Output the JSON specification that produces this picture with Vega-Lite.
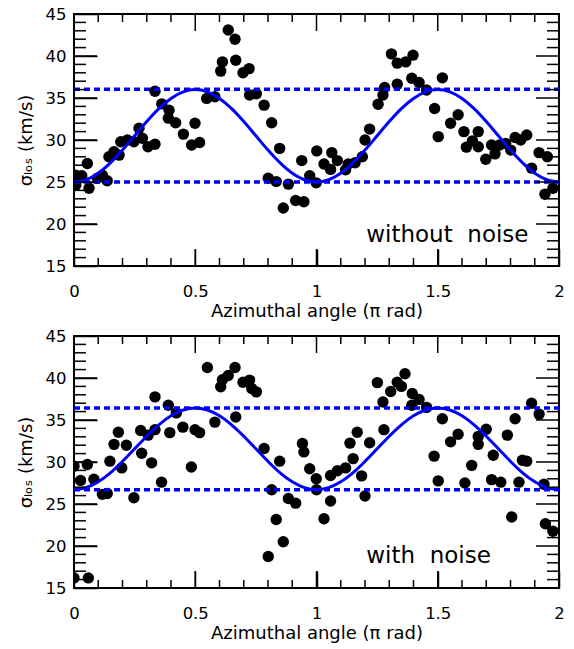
{
  "$schema": "https://vega.github.io/schema/vega-lite/v6.json",
  "background": "white",
  "padding": {"left": 16, "top": 5, "right": 0, "bottom": 0},
  "spacing": 70,
  "bounds": "flush",
  "config": {
    "view": {"stroke": "black", "strokeWidth": 2, "fill": "transparent"},
    "axis": {"zindex": 1, "domain": false, "grid": false, "tickColor": "#000000", "tickWidth": 1.5, "labelFont": "DejaVu Sans", "labelFontSize": 16.5, "labelColor": "black", "titleFont": "DejaVu Sans", "titleFontSize": 18, "titleFontWeight": "normal", "titleColor": "black", "labelFlush": false, "labelOverlap": false}
  },
  "datasets": {
    "ymaj": [{"v":15},{"v":20},{"v":25},{"v":30},{"v":35},{"v":40},{"v":45}],
    "ymin": [{"v":16},{"v":17},{"v":18},{"v":19},{"v":21},{"v":22},{"v":23},{"v":24},{"v":26},{"v":27},{"v":28},{"v":29},{"v":31},{"v":32},{"v":33},{"v":34},{"v":36},{"v":37},{"v":38},{"v":39},{"v":41},{"v":42},{"v":43},{"v":44}],
    "xmaj": [{"v":0},{"v":0.5},{"v":1},{"v":1.5},{"v":2}],
    "xmin": [{"v":0.1},{"v":0.2},{"v":0.3},{"v":0.4},{"v":0.6},{"v":0.7},{"v":0.8},{"v":0.9},{"v":1.1},{"v":1.2},{"v":1.3},{"v":1.4},{"v":1.6},{"v":1.7},{"v":1.8},{"v":1.9}],
    "top_pts": [
      {"x":0.007,"y":25.8},{"x":0.032,"y":25.75},{"x":0.007,"y":24.6},{"x":0.055,"y":27.2},{"x":0.062,"y":24.25},{"x":0.096,"y":25.45},{"x":0.117,"y":25.8},{"x":0.137,"y":25.15},{"x":0.144,"y":28.0},{"x":0.165,"y":28.6},{"x":0.186,"y":28.2},{"x":0.193,"y":29.8},{"x":0.22,"y":30.0},{"x":0.247,"y":29.8},{"x":0.268,"y":31.4},{"x":0.282,"y":30.2},{"x":0.305,"y":29.2},{"x":0.334,"y":29.5},{"x":0.334,"y":35.8},{"x":0.362,"y":34.3},{"x":0.392,"y":33.55},{"x":0.389,"y":32.6},{"x":0.419,"y":32.05},{"x":0.451,"y":30.7},{"x":0.499,"y":32.0},{"x":0.485,"y":29.4},{"x":0.518,"y":29.7},{"x":0.547,"y":34.95},{"x":0.581,"y":35.15},{"x":0.605,"y":38.2},{"x":0.612,"y":39.3},{"x":0.636,"y":43.1},{"x":0.664,"y":42.0},{"x":0.667,"y":39.5},{"x":0.697,"y":38.0},{"x":0.722,"y":38.5},{"x":0.724,"y":35.35},{"x":0.752,"y":35.5},{"x":0.784,"y":34.15},{"x":0.815,"y":32.05},{"x":0.848,"y":29.0},{"x":0.801,"y":25.45},{"x":0.834,"y":25.05},{"x":0.884,"y":24.75},{"x":0.863,"y":21.9},{"x":0.914,"y":22.8},{"x":0.948,"y":22.65},{"x":0.939,"y":27.55},{"x":0.972,"y":25.75},{"x":0.999,"y":24.9},{"x":1.001,"y":28.7},{"x":1.031,"y":27.15},{"x":1.058,"y":26.5},{"x":1.063,"y":28.5},{"x":1.086,"y":27.55},{"x":1.12,"y":26.45},{"x":1.131,"y":27.15},{"x":1.159,"y":27.3},{"x":1.189,"y":28.0},{"x":1.2,"y":30.0},{"x":1.219,"y":31.3},{"x":1.254,"y":34.25},{"x":1.274,"y":35.35},{"x":1.281,"y":36.25},{"x":1.309,"y":40.25},{"x":1.333,"y":39.15},{"x":1.333,"y":36.65},{"x":1.368,"y":39.3},{"x":1.398,"y":40.1},{"x":1.393,"y":37.35},{"x":1.423,"y":36.85},{"x":1.454,"y":35.95},{"x":1.519,"y":37.4},{"x":1.487,"y":33.75},{"x":1.502,"y":30.4},{"x":1.553,"y":32.0},{"x":1.584,"y":33.0},{"x":1.608,"y":31.0},{"x":1.618,"y":29.15},{"x":1.643,"y":29.9},{"x":1.667,"y":31.0},{"x":1.667,"y":29.2},{"x":1.698,"y":27.7},{"x":1.722,"y":29.4},{"x":1.736,"y":28.35},{"x":1.755,"y":29.4},{"x":1.78,"y":29.6},{"x":1.801,"y":28.8},{"x":1.819,"y":30.3},{"x":1.842,"y":30.0},{"x":1.867,"y":30.6},{"x":1.887,"y":26.65},{"x":1.918,"y":28.5},{"x":1.952,"y":28.0},{"x":1.942,"y":23.55},{"x":1.975,"y":24.25}
    ],
    "top_curve": [
      {"x":0,"y":25.0},{"x":0.05,"y":25.27},{"x":0.1,"y":26.05},{"x":0.15,"y":27.27},{"x":0.2,"y":28.8},{"x":0.25,"y":30.5},{"x":0.3,"y":32.2},{"x":0.35,"y":33.73},{"x":0.4,"y":34.95},{"x":0.45,"y":35.73},{"x":0.5,"y":36.0},{"x":0.55,"y":35.73},{"x":0.6,"y":34.95},{"x":0.65,"y":33.73},{"x":0.7,"y":32.2},{"x":0.75,"y":30.5},{"x":0.8,"y":28.8},{"x":0.85,"y":27.27},{"x":0.9,"y":26.05},{"x":0.95,"y":25.27},
      {"x":1.0,"y":25.0},{"x":1.05,"y":25.27},{"x":1.1,"y":26.05},{"x":1.15,"y":27.27},{"x":1.2,"y":28.8},{"x":1.25,"y":30.5},{"x":1.3,"y":32.2},{"x":1.35,"y":33.73},{"x":1.4,"y":34.95},{"x":1.45,"y":35.73},{"x":1.5,"y":36.0},{"x":1.55,"y":35.73},{"x":1.6,"y":34.95},{"x":1.65,"y":33.73},{"x":1.7,"y":32.2},{"x":1.75,"y":30.5},{"x":1.8,"y":28.8},{"x":1.85,"y":27.27},{"x":1.9,"y":26.05},{"x":1.95,"y":25.27},{"x":2.0,"y":25.0}
    ],
    "top_hi": [{"x":0,"y":36.05},{"x":2,"y":36.05}],
    "top_lo": [{"x":0,"y":25.0},{"x":2,"y":25.0}],
    "top_lbl": [{"x":1.205,"y":17.9,"label":"without\u00a0 noise"}],
    "bot_pts": [
      {"x":0.0,"y":29.5},{"x":0.055,"y":29.7},{"x":0.027,"y":27.8},{"x":0.082,"y":27.95},{"x":0.117,"y":26.15},{"x":0.137,"y":26.25},{"x":0.148,"y":30.1},{"x":0.165,"y":32.1},{"x":0.183,"y":33.55},{"x":0.197,"y":29.3},{"x":0.216,"y":32.0},{"x":0.247,"y":25.75},{"x":0.275,"y":33.75},{"x":0.279,"y":31.05},{"x":0.306,"y":33.2},{"x":0.32,"y":29.9},{"x":0.334,"y":33.85},{"x":0.334,"y":37.75},{"x":0.361,"y":27.6},{"x":0.389,"y":36.75},{"x":0.395,"y":33.5},{"x":0.422,"y":35.85},{"x":0.449,"y":34.15},{"x":0.484,"y":29.4},{"x":0.499,"y":33.85},{"x":0.518,"y":33.5},{"x":0.55,"y":41.25},{"x":0.581,"y":34.75},{"x":0.605,"y":38.95},{"x":0.612,"y":39.8},{"x":0.636,"y":40.3},{"x":0.664,"y":41.25},{"x":0.667,"y":35.35},{"x":0.697,"y":39.5},{"x":0.724,"y":39.75},{"x":0.733,"y":38.75},{"x":0.752,"y":38.35},{"x":0.784,"y":31.6},{"x":0.848,"y":30.1},{"x":0.815,"y":26.7},{"x":0.834,"y":23.15},{"x":0.801,"y":18.75},{"x":0.863,"y":20.5},{"x":0.884,"y":25.65},{"x":0.914,"y":25.1},{"x":0.942,"y":32.2},{"x":0.948,"y":31.2},{"x":0.972,"y":29.2},{"x":0.999,"y":28.0},{"x":1.0,"y":26.7},{"x":1.031,"y":23.25},{"x":1.058,"y":25.35},{"x":1.058,"y":28.4},{"x":1.086,"y":28.95},{"x":1.12,"y":29.3},{"x":1.138,"y":32.25},{"x":1.151,"y":30.4},{"x":1.168,"y":33.55},{"x":1.186,"y":28.35},{"x":1.2,"y":25.95},{"x":1.219,"y":32.3},{"x":1.251,"y":39.45},{"x":1.278,"y":33.85},{"x":1.274,"y":37.15},{"x":1.306,"y":38.4},{"x":1.333,"y":39.5},{"x":1.35,"y":39.0},{"x":1.365,"y":40.5},{"x":1.395,"y":38.15},{"x":1.393,"y":36.75},{"x":1.423,"y":37.45},{"x":1.454,"y":36.5},{"x":1.519,"y":35.15},{"x":1.485,"y":30.7},{"x":1.502,"y":27.75},{"x":1.553,"y":32.4},{"x":1.584,"y":33.3},{"x":1.612,"y":27.5},{"x":1.64,"y":29.6},{"x":1.667,"y":33.05},{"x":1.667,"y":32.1},{"x":1.7,"y":33.9},{"x":1.722,"y":27.9},{"x":1.729,"y":30.8},{"x":1.76,"y":27.6},{"x":1.787,"y":33.2},{"x":1.805,"y":23.45},{"x":1.819,"y":35.15},{"x":1.835,"y":27.6},{"x":1.849,"y":30.2},{"x":1.867,"y":30.1},{"x":1.887,"y":37.0},{"x":1.918,"y":35.7},{"x":1.938,"y":27.35},{"x":1.944,"y":22.65},{"x":1.975,"y":21.75},{"x":0.0,"y":16.2},{"x":0.059,"y":16.2}
    ],
    "bot_curve": [
      {"x":0,"y":26.71},{"x":0.05,"y":26.95},{"x":0.1,"y":27.64},{"x":0.15,"y":28.71},{"x":0.2,"y":30.07},{"x":0.25,"y":31.57},{"x":0.3,"y":33.07},{"x":0.35,"y":34.43},{"x":0.4,"y":35.5},{"x":0.45,"y":36.19},{"x":0.5,"y":36.43},{"x":0.55,"y":36.19},{"x":0.6,"y":35.5},{"x":0.65,"y":34.43},{"x":0.7,"y":33.07},{"x":0.75,"y":31.57},{"x":0.8,"y":30.07},{"x":0.85,"y":28.71},{"x":0.9,"y":27.64},{"x":0.95,"y":26.95},
      {"x":1.0,"y":26.71},{"x":1.05,"y":26.95},{"x":1.1,"y":27.64},{"x":1.15,"y":28.71},{"x":1.2,"y":30.07},{"x":1.25,"y":31.57},{"x":1.3,"y":33.07},{"x":1.35,"y":34.43},{"x":1.4,"y":35.5},{"x":1.45,"y":36.19},{"x":1.5,"y":36.43},{"x":1.55,"y":36.19},{"x":1.6,"y":35.5},{"x":1.65,"y":34.43},{"x":1.7,"y":33.07},{"x":1.75,"y":31.57},{"x":1.8,"y":30.07},{"x":1.85,"y":28.71},{"x":1.9,"y":27.64},{"x":1.95,"y":26.95},{"x":2.0,"y":26.71}
    ],
    "bot_hi": [{"x":0,"y":36.43},{"x":2,"y":36.43}],
    "bot_lo": [{"x":0,"y":26.71},{"x":2,"y":26.71}],
    "bot_lbl": [{"x":1.205,"y":17.95,"label":"with\u00a0 noise"}]
  },
  "vconcat": [
    {
      "width": 485, "height": 252,
      "resolve": {"scale": {"x": "independent", "y": "independent"}},
      "layer": [
        {"data": {"name": "top_pts"}, "mark": {"type": "circle", "size": 130, "color": "black", "opacity": 1, "clip": true},
         "encoding": {
           "x": {"field": "x", "type": "quantitative", "scale": {"domain": [0, 2], "nice": false, "zero": false}, "axis": {"orient": "bottom", "values": [0, 0.5, 1, 1.5, 2], "format": "~g", "tickSize": 17, "offset": -17, "labelPadding": 17, "title": "Azimuthal angle (π rad)", "titlePadding": 3}},
           "y": {"field": "y", "type": "quantitative", "scale": {"domain": [15, 45], "nice": false, "zero": false}, "axis": {"orient": "left", "values": [15, 20, 25, 30, 35, 40, 45], "tickSize": 23, "offset": -23, "labelPadding": 8, "title": "σₗₒₛ (km/s)", "titlePadding": 10}}
         }},
        {"data": {"name": "top_curve"}, "mark": {"type": "line", "color": "#0000ff", "strokeWidth": 3, "interpolate": "monotone"},
         "encoding": {
           "x": {"field": "x", "type": "quantitative", "scale": {"domain": [0, 2], "nice": false, "zero": false}, "axis": null},
           "y": {"field": "y", "type": "quantitative", "scale": {"domain": [15, 45], "nice": false, "zero": false}, "axis": null}
         }},
        {"data": {"name": "top_hi"}, "mark": {"type": "line", "color": "#0000ff", "strokeWidth": 3.5, "strokeDash": [6, 4]},
         "encoding": {
           "x": {"field": "x", "type": "quantitative", "scale": {"domain": [0, 2], "nice": false, "zero": false}, "axis": null},
           "y": {"field": "y", "type": "quantitative", "scale": {"domain": [15, 45], "nice": false, "zero": false}, "axis": null}
         }},
        {"data": {"name": "top_lo"}, "mark": {"type": "line", "color": "#0000ff", "strokeWidth": 3.5, "strokeDash": [6, 4]},
         "encoding": {
           "x": {"field": "x", "type": "quantitative", "scale": {"domain": [0, 2], "nice": false, "zero": false}, "axis": null},
           "y": {"field": "y", "type": "quantitative", "scale": {"domain": [15, 45], "nice": false, "zero": false}, "axis": null}
         }},
        {"data": {"name": "top_lbl"}, "mark": {"type": "text", "font": "DejaVu Sans", "fontSize": 23, "align": "left", "baseline": "alphabetic", "color": "black"},
         "encoding": {
           "x": {"field": "x", "type": "quantitative", "scale": {"domain": [0, 2], "nice": false, "zero": false}, "axis": null},
           "y": {"field": "y", "type": "quantitative", "scale": {"domain": [15, 45], "nice": false, "zero": false}, "axis": null},
           "text": {"field": "label", "type": "nominal"}
         }},
        {"data": {"name": "ymaj"}, "mark": {"type": "tick", "orient": "horizontal", "size": 46, "thickness": 1.5, "color": "black", "opacity": 1, "clip": true},
         "encoding": {"x": {"datum": 0, "type": "quantitative", "scale": {"domain": [0, 2], "nice": false, "zero": false}, "axis": null}, "y": {"field": "v", "type": "quantitative", "scale": {"domain": [15, 45], "nice": false, "zero": false}, "axis": null}}},
        {"data": {"name": "ymaj"}, "mark": {"type": "tick", "orient": "horizontal", "size": 46, "thickness": 1.5, "color": "black", "opacity": 1, "clip": true},
         "encoding": {"x": {"datum": 2, "type": "quantitative", "scale": {"domain": [0, 2], "nice": false, "zero": false}, "axis": null}, "y": {"field": "v", "type": "quantitative", "scale": {"domain": [15, 45], "nice": false, "zero": false}, "axis": null}}},
        {"data": {"name": "ymin"}, "mark": {"type": "tick", "orient": "horizontal", "size": 24, "thickness": 1.5, "color": "black", "opacity": 1, "clip": true},
         "encoding": {"x": {"datum": 0, "type": "quantitative", "scale": {"domain": [0, 2], "nice": false, "zero": false}, "axis": null}, "y": {"field": "v", "type": "quantitative", "scale": {"domain": [15, 45], "nice": false, "zero": false}, "axis": null}}},
        {"data": {"name": "ymin"}, "mark": {"type": "tick", "orient": "horizontal", "size": 24, "thickness": 1.5, "color": "black", "opacity": 1, "clip": true},
         "encoding": {"x": {"datum": 2, "type": "quantitative", "scale": {"domain": [0, 2], "nice": false, "zero": false}, "axis": null}, "y": {"field": "v", "type": "quantitative", "scale": {"domain": [15, 45], "nice": false, "zero": false}, "axis": null}}},
        {"data": {"name": "xmaj"}, "mark": {"type": "tick", "orient": "vertical", "size": 34, "thickness": 1.5, "color": "black", "opacity": 1, "clip": true},
         "encoding": {"x": {"field": "v", "type": "quantitative", "scale": {"domain": [0, 2], "nice": false, "zero": false}, "axis": null}, "y": {"datum": 15, "type": "quantitative", "scale": {"domain": [15, 45], "nice": false, "zero": false}, "axis": null}}},
        {"data": {"name": "xmaj"}, "mark": {"type": "tick", "orient": "vertical", "size": 34, "thickness": 1.5, "color": "black", "opacity": 1, "clip": true},
         "encoding": {"x": {"field": "v", "type": "quantitative", "scale": {"domain": [0, 2], "nice": false, "zero": false}, "axis": null}, "y": {"datum": 45, "type": "quantitative", "scale": {"domain": [15, 45], "nice": false, "zero": false}, "axis": null}}},
        {"data": {"name": "xmin"}, "mark": {"type": "tick", "orient": "vertical", "size": 16, "thickness": 1.5, "color": "black", "opacity": 1, "clip": true},
         "encoding": {"x": {"field": "v", "type": "quantitative", "scale": {"domain": [0, 2], "nice": false, "zero": false}, "axis": null}, "y": {"datum": 15, "type": "quantitative", "scale": {"domain": [15, 45], "nice": false, "zero": false}, "axis": null}}},
        {"data": {"name": "xmin"}, "mark": {"type": "tick", "orient": "vertical", "size": 16, "thickness": 1.5, "color": "black", "opacity": 1, "clip": true},
         "encoding": {"x": {"field": "v", "type": "quantitative", "scale": {"domain": [0, 2], "nice": false, "zero": false}, "axis": null}, "y": {"datum": 45, "type": "quantitative", "scale": {"domain": [15, 45], "nice": false, "zero": false}, "axis": null}}}
      ]
    },
    {
      "width": 485, "height": 252,
      "resolve": {"scale": {"x": "independent", "y": "independent"}},
      "layer": [
        {"data": {"name": "bot_pts"}, "mark": {"type": "circle", "size": 130, "color": "black", "opacity": 1, "clip": true},
         "encoding": {
           "x": {"field": "x", "type": "quantitative", "scale": {"domain": [0, 2], "nice": false, "zero": false}, "axis": {"orient": "bottom", "values": [0, 0.5, 1, 1.5, 2], "format": "~g", "tickSize": 17, "offset": -17, "labelPadding": 17, "title": "Azimuthal angle (π rad)", "titlePadding": 3}},
           "y": {"field": "y", "type": "quantitative", "scale": {"domain": [15, 45], "nice": false, "zero": false}, "axis": {"orient": "left", "values": [15, 20, 25, 30, 35, 40, 45], "tickSize": 23, "offset": -23, "labelPadding": 8, "title": "σₗₒₛ (km/s)", "titlePadding": 10}}
         }},
        {"data": {"name": "bot_curve"}, "mark": {"type": "line", "color": "#0000ff", "strokeWidth": 3, "interpolate": "monotone"},
         "encoding": {
           "x": {"field": "x", "type": "quantitative", "scale": {"domain": [0, 2], "nice": false, "zero": false}, "axis": null},
           "y": {"field": "y", "type": "quantitative", "scale": {"domain": [15, 45], "nice": false, "zero": false}, "axis": null}
         }},
        {"data": {"name": "bot_hi"}, "mark": {"type": "line", "color": "#0000ff", "strokeWidth": 3.5, "strokeDash": [6, 4]},
         "encoding": {
           "x": {"field": "x", "type": "quantitative", "scale": {"domain": [0, 2], "nice": false, "zero": false}, "axis": null},
           "y": {"field": "y", "type": "quantitative", "scale": {"domain": [15, 45], "nice": false, "zero": false}, "axis": null}
         }},
        {"data": {"name": "bot_lo"}, "mark": {"type": "line", "color": "#0000ff", "strokeWidth": 3.5, "strokeDash": [6, 4]},
         "encoding": {
           "x": {"field": "x", "type": "quantitative", "scale": {"domain": [0, 2], "nice": false, "zero": false}, "axis": null},
           "y": {"field": "y", "type": "quantitative", "scale": {"domain": [15, 45], "nice": false, "zero": false}, "axis": null}
         }},
        {"data": {"name": "bot_lbl"}, "mark": {"type": "text", "font": "DejaVu Sans", "fontSize": 23, "align": "left", "baseline": "alphabetic", "color": "black"},
         "encoding": {
           "x": {"field": "x", "type": "quantitative", "scale": {"domain": [0, 2], "nice": false, "zero": false}, "axis": null},
           "y": {"field": "y", "type": "quantitative", "scale": {"domain": [15, 45], "nice": false, "zero": false}, "axis": null},
           "text": {"field": "label", "type": "nominal"}
         }},
        {"data": {"name": "ymaj"}, "mark": {"type": "tick", "orient": "horizontal", "size": 46, "thickness": 1.5, "color": "black", "opacity": 1, "clip": true},
         "encoding": {"x": {"datum": 0, "type": "quantitative", "scale": {"domain": [0, 2], "nice": false, "zero": false}, "axis": null}, "y": {"field": "v", "type": "quantitative", "scale": {"domain": [15, 45], "nice": false, "zero": false}, "axis": null}}},
        {"data": {"name": "ymaj"}, "mark": {"type": "tick", "orient": "horizontal", "size": 46, "thickness": 1.5, "color": "black", "opacity": 1, "clip": true},
         "encoding": {"x": {"datum": 2, "type": "quantitative", "scale": {"domain": [0, 2], "nice": false, "zero": false}, "axis": null}, "y": {"field": "v", "type": "quantitative", "scale": {"domain": [15, 45], "nice": false, "zero": false}, "axis": null}}},
        {"data": {"name": "ymin"}, "mark": {"type": "tick", "orient": "horizontal", "size": 24, "thickness": 1.5, "color": "black", "opacity": 1, "clip": true},
         "encoding": {"x": {"datum": 0, "type": "quantitative", "scale": {"domain": [0, 2], "nice": false, "zero": false}, "axis": null}, "y": {"field": "v", "type": "quantitative", "scale": {"domain": [15, 45], "nice": false, "zero": false}, "axis": null}}},
        {"data": {"name": "ymin"}, "mark": {"type": "tick", "orient": "horizontal", "size": 24, "thickness": 1.5, "color": "black", "opacity": 1, "clip": true},
         "encoding": {"x": {"datum": 2, "type": "quantitative", "scale": {"domain": [0, 2], "nice": false, "zero": false}, "axis": null}, "y": {"field": "v", "type": "quantitative", "scale": {"domain": [15, 45], "nice": false, "zero": false}, "axis": null}}},
        {"data": {"name": "xmaj"}, "mark": {"type": "tick", "orient": "vertical", "size": 34, "thickness": 1.5, "color": "black", "opacity": 1, "clip": true},
         "encoding": {"x": {"field": "v", "type": "quantitative", "scale": {"domain": [0, 2], "nice": false, "zero": false}, "axis": null}, "y": {"datum": 15, "type": "quantitative", "scale": {"domain": [15, 45], "nice": false, "zero": false}, "axis": null}}},
        {"data": {"name": "xmaj"}, "mark": {"type": "tick", "orient": "vertical", "size": 34, "thickness": 1.5, "color": "black", "opacity": 1, "clip": true},
         "encoding": {"x": {"field": "v", "type": "quantitative", "scale": {"domain": [0, 2], "nice": false, "zero": false}, "axis": null}, "y": {"datum": 45, "type": "quantitative", "scale": {"domain": [15, 45], "nice": false, "zero": false}, "axis": null}}},
        {"data": {"name": "xmin"}, "mark": {"type": "tick", "orient": "vertical", "size": 16, "thickness": 1.5, "color": "black", "opacity": 1, "clip": true},
         "encoding": {"x": {"field": "v", "type": "quantitative", "scale": {"domain": [0, 2], "nice": false, "zero": false}, "axis": null}, "y": {"datum": 15, "type": "quantitative", "scale": {"domain": [15, 45], "nice": false, "zero": false}, "axis": null}}},
        {"data": {"name": "xmin"}, "mark": {"type": "tick", "orient": "vertical", "size": 16, "thickness": 1.5, "color": "black", "opacity": 1, "clip": true},
         "encoding": {"x": {"field": "v", "type": "quantitative", "scale": {"domain": [0, 2], "nice": false, "zero": false}, "axis": null}, "y": {"datum": 45, "type": "quantitative", "scale": {"domain": [15, 45], "nice": false, "zero": false}, "axis": null}}}
      ]
    }
  ]
}
